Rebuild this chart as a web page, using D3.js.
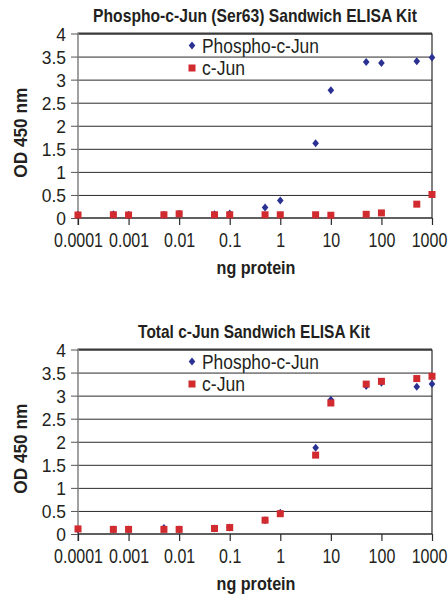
<!DOCTYPE html>
<html><head><meta charset="utf-8">
<script src="https://cdn.jsdelivr.net/npm/d3@7"></script>
<style>
html,body{margin:0;padding:0;background:#fff;}
svg{display:block;}
text{font-family:"Liberation Sans","Arial",sans-serif;fill:#231f20;}
</style></head>
<body>
<svg id="chart" width="448" height="599"></svg>
<script>
const xValues = [0.0001,0.0005,0.001,0.005,0.01,0.05,0.1,0.5,1,5,10,50,100,500,1000];
const phosphoTopValues = [0.07,0.08,0.07,0.07,0.09,0.08,0.10,0.23,0.38,1.62,2.77,3.38,3.36,3.40,3.48];
const cJunTopValues = [0.065,0.07,0.065,0.07,0.09,0.07,0.07,0.07,0.07,0.07,0.06,0.08,0.11,0.30,0.51];
const phosphoBottomValues = [0.10,0.10,0.10,0.13,0.10,0.12,0.14,0.30,0.46,1.87,2.91,3.21,3.28,3.19,3.25];
const cJunBottomValues = [0.11,0.10,0.10,0.10,0.10,0.12,0.14,0.30,0.44,1.71,2.84,3.25,3.31,3.37,3.42];
const xTickValues = [0.0001,0.001,0.01,0.1,1,10,100,1000];
const xTickLabels = ["0.0001","0.001","0.01","0.1","1","10","100","1000"];
const yTickValues = [0,0.5,1,1.5,2,2.5,3,3.5,4];
const yTickLabels = ["0","0.5","1","1.5","2","2.5","3","3.5","4"];
const seriesNames = ["Phospho-c-Jun","c-Jun"];
const titles = ["Phospho-c-Jun (Ser63) Sandwich ELISA Kit","Total c-Jun Sandwich ELISA Kit"];
const xLabel = "ng protein";
const yLabel = "OD 450 nm";

const svg = d3.select("#chart");
const BLUE = "#2b3192", RED = "#d12a2f";

// horizontally squeeze a text placed at (x,y) by a factor, keeping its anchor point
function squeezeFactor(sel, factor) {
  sel.each(function(){
    const el = d3.select(this);
    const x0 = +(el.attr("x") || 0);
    el.attr("x", x0 / factor).attr("transform", `scale(${factor},1)`);
  });
}
// place a text at (cx,cy) with rotation, squeezed to a target width
function placeFit(el, cx, cy, rot, width) {
  const w = el.node().getComputedTextLength();
  const s = width / w;
  el.attr("x",0).attr("y",0)
    .attr("transform", `translate(${cx},${cy})${rot?` rotate(${rot})`:""} scale(${s},1)`);
}

const diamondType = {
  draw(ctx, size) {
    const w = 3.3, h = 4;
    ctx.moveTo(0,-h); ctx.lineTo(w,0); ctx.lineTo(0,h); ctx.lineTo(-w,0); ctx.closePath();
  }
};

const titleWidths = [324, 232];

function drawPanel(idx, offsetY, phospho, cjun) {
  const left = 78, right = 432, top = 33.5 + offsetY, bottom = 218 + offsetY;
  const g = svg.append("g");
  const x = d3.scaleLog().domain([0.0001,1000]).range([left,right]);
  const y = d3.scaleLinear().domain([0,4]).range([bottom,top]);

  // title
  const t = g.append("text").attr("text-anchor","middle")
    .attr("font-size",17.5).attr("font-weight","bold").text(titles[idx]);
  placeFit(t, idx===0?255:254, offsetY+21.5, 0, titleWidths[idx]);

  // gridlines
  g.append("g").attr("transform",`translate(${left},0)`)
    .call(d3.axisLeft(y).tickValues(yTickValues.slice(1)).tickSize(-(right-left)).tickFormat(""))
    .call(s=>s.select(".domain").remove())
    .call(s=>s.selectAll("line").attr("stroke","#2a2a2a").attr("stroke-width",1));
  g.append("line").attr("x1",left).attr("x2",right).attr("y1",y(4)).attr("y2",y(4))
    .attr("stroke","#3a3a3a").attr("stroke-width",2);
  g.append("line").attr("x1",right).attr("x2",right).attr("y1",y(4)).attr("y2",bottom)
    .attr("stroke","#2a2a2a").attr("stroke-width",1.2);

  // y axis
  const yAxis = g.append("g").attr("transform",`translate(${left},0)`)
    .call(d3.axisLeft(y).tickValues(yTickValues).tickSize(7).tickSizeOuter(0).tickPadding(5)
      .tickFormat((d,i)=>yTickLabels[i]));
  yAxis.select(".domain").attr("stroke","#8a8a8a").attr("stroke-width",1.6)
    .attr("d",`M0,${y(4)-1}V${bottom+7}`);
  yAxis.selectAll(".tick line").attr("stroke","#555");
  yAxis.selectAll("text").attr("font-size",19).attr("fill","#231f20").attr("dy","0.36em");
  squeezeFactor(yAxis.selectAll("text"), 0.92);

  // x axis
  const xAxis = g.append("g").attr("transform",`translate(0,${bottom})`)
    .call(d3.axisBottom(x).tickValues(xTickValues).tickSize(7).tickSizeOuter(0).tickPadding(8)
      .tickFormat((d,i)=>xTickLabels[i]));
  xAxis.select(".domain").attr("stroke","#2a2a2a").attr("stroke-width",1.6).attr("d",`M${left},0H${right}`);
  xAxis.selectAll(".tick line").attr("stroke","#2a2a2a").attr("stroke-width",1.2);
  xAxis.selectAll("text").attr("font-size",20).attr("fill","#231f20");
  xAxis.selectAll("text").filter((d)=>d===1000).attr("x",-3);
  squeezeFactor(xAxis.selectAll("text"), 0.8);

  // axis labels
  const xl = g.append("text").attr("text-anchor","middle")
    .attr("font-size",18).attr("font-weight","bold").text(xLabel);
  placeFit(xl, 256, bottom+56, 0, 79);
  const yl = g.append("text").attr("text-anchor","middle")
    .attr("font-size",17.5).attr("font-weight","bold").text(yLabel);
  placeFit(yl, 27, (top+bottom)/2+7, -90, 90);

  // points
  const sq = 7;
  const diamond = d3.symbol().type(diamondType);
  g.append("g").selectAll("path").data(xValues).join("path")
    .attr("d",diamond).attr("fill",BLUE)
    .attr("transform",(d,i)=>`translate(${x(d)},${y(phospho[i])})`);
  g.append("g").selectAll("rect").data(xValues).join("rect")
    .attr("x",(d)=>x(d)-sq/2).attr("y",(d,i)=>y(cjun[i])-sq/2)
    .attr("width",sq).attr("height",sq).attr("fill",RED);

  // legend
  const lx = 192;
  const ly1 = offsetY + 45.5, ly2 = offsetY + 68;
  g.append("path").attr("d",diamond).attr("fill",BLUE).attr("transform",`translate(${lx},${ly1})`);
  const l1 = g.append("text").attr("dy","0.36em").attr("font-size",20).text(seriesNames[0]);
  placeFit(l1, lx+10, ly1, 0, 117);
  g.append("rect").attr("x",lx-sq/2).attr("y",ly2-sq/2).attr("width",sq).attr("height",sq).attr("fill",RED);
  const l2 = g.append("text").attr("dy","0.36em").attr("font-size",20).text(seriesNames[1]);
  placeFit(l2, lx+10, ly2, 0, 43);
}

drawPanel(0, 0, phosphoTopValues, cJunTopValues);
drawPanel(1, 316, phosphoBottomValues, cJunBottomValues);
</script>
</body></html>
